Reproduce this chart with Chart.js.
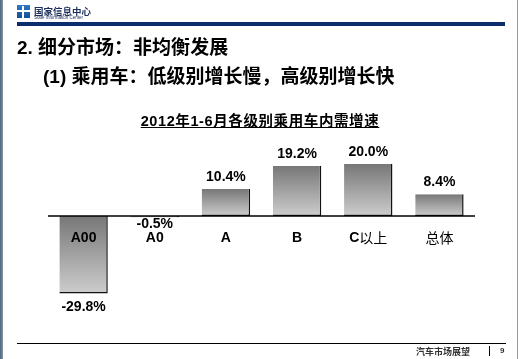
<!DOCTYPE html>
<html>
<head>
<meta charset="utf-8">
<script src="https://cdn.jsdelivr.net/npm/chart.js@4.4.1/dist/chart.umd.min.js"></script>
<style>
  html, body { margin: 0; padding: 0; background: #fff; }
  #slide { position: relative; width: 522px; height: 359px; overflow: hidden; background: #fff;
           font-family: "Liberation Sans", Arial, "Noto Sans CJK SC", sans-serif; }
  .abs { position: absolute; white-space: nowrap; }
  #leftEdge { left: 0; top: 0; width: 3px; height: 359px; background: linear-gradient(to right, #4d6479, #8796a6); }
  #rightEdge { left: 517px; top: 0; width: 1px; height: 359px; background: #9a9a9a; }
  #logo { left: 17px; top: 5px; width: 13px; height: 13px; background: linear-gradient(#2f78c8, #114f9a); }
  #logo:before { content: ""; position: absolute; left: 5px; top: 1px; width: 2px; height: 12px; background: #fff; }
  #logo:after { content: ""; position: absolute; left: 0; top: 5px; width: 13px; height: 2px; background: #fff; }
  #org { left: 34px; top: 4px; font-size: 9.5px; font-weight: bold; color: #1c2f5a; font-family: "Noto Sans CJK SC", sans-serif; }
  #orgEn { left: 34px; top: 15px; font-size: 4.5px; color: #1c2f5a; }
  #bar { left: 17px; top: 22px; width: 488px; height: 4px; background: #0b2d6b; }
  #h1 { left: 17px; top: 32px; font-size: 19px; font-weight: bold; color: #000; }
  #h2 { left: 43px; top: 61px; font-size: 19px; font-weight: bold; color: #000; }
  #ctitle { left: 0; width: 520px; text-align: center; top: 109px; font-size: 14.5px; font-weight: bold;
            color: #000; text-decoration: underline; letter-spacing: 0.6px; }
  #foot { left: 17px; top: 343px; width: 489px; height: 1px; background: #000; }
  #footTxt { left: 416px; top: 345px; font-size: 9px; font-weight: bold; color: #333; font-family: "Noto Sans CJK SC", sans-serif; }
  #footSep { left: 489px; top: 346px; width: 1px; height: 10px; background: #000; }
  #footNum { left: 500px; top: 346px; font-size: 8px; font-weight: bold; color: #333; }
  #wrap { position: absolute; left: 0; top: 0; width: 522px; height: 359px; }
</style>
</head>
<body>
<div id="slide">
  <div id="wrap"><canvas id="c"></canvas></div>
  <div class="abs" id="leftEdge"></div>
  <div class="abs" id="rightEdge"></div>
  <div class="abs" id="logo"></div>
  <div class="abs" id="org">国家信息中心</div>
  <div class="abs" id="orgEn">State Information Center</div>
  <div class="abs" id="bar"></div>
  <div class="abs" id="h1">2. 细分市场：非均衡发展</div>
  <div class="abs" id="h2">(1) 乘用车：低级别增长慢，高级别增长快</div>
  <div class="abs" id="ctitle">2012年1-6月各级别乘用车内需增速</div>
  <div class="abs" id="foot"></div>
  <div class="abs" id="footTxt">汽车市场展望</div>
  <div class="abs" id="footSep"></div>
  <div class="abs" id="footNum">9</div>
</div>
<script>
const categories = ["A00", "A0", "A", "B", "C以上", "总体"];
const growth = [-29.8, -0.5, 10.4, 19.2, 20.0, 8.4];

function barFill(c) {
  const chart = c.chart;
  if (!chart.chartArea) return '#aaaaaa';
  const y = chart.scales.y;
  const p0 = y.getPixelForValue(0), p1 = y.getPixelForValue(c.raw);
  const top = Math.min(p0, p1), bot = Math.max(p0, p1) + 0.01;
  const g = chart.ctx.createLinearGradient(0, top, 0, bot);
  g.addColorStop(0, '#777777');
  g.addColorStop(1, '#cdcdcd');
  return g;
}

// draw text with latin parts bold and CJK parts normal
function mixedText(ctx, text, cx, cy) {
  const runs = [];
  for (const ch of text) {
    const cjk = /[\u4e00-\u9fff]/.test(ch);
    if (runs.length && runs[runs.length - 1].cjk === cjk) runs[runs.length - 1].t += ch;
    else runs.push({t: ch, cjk: cjk});
  }
  const fontOf = r => r.cjk ? 'normal 14px "Noto Sans CJK SC"' : 'bold 14px "Liberation Sans", Arial';
  let w = 0;
  runs.forEach(r => { ctx.font = fontOf(r); r.w = ctx.measureText(r.t).width; w += r.w; });
  let x = cx - w / 2;
  ctx.textAlign = 'left';
  runs.forEach(r => { ctx.font = fontOf(r); ctx.fillText(r.t, x, cy); x += r.w; });
}

const barLabels = {
  id: 'barLabels',
  afterDatasetsDraw(chart) {
    const {ctx, chartArea: {left, right}} = chart;
    const y = chart.scales.y;
    const zero = y.getPixelForValue(0);
    ctx.save();
    ctx.strokeStyle = '#000';
    ctx.lineWidth = 1.5;
    ctx.beginPath();
    ctx.moveTo(left, zero);
    ctx.lineTo(right, zero);
    ctx.stroke();

    ctx.fillStyle = '#000';
    ctx.textBaseline = 'middle';
    const meta = chart.getDatasetMeta(0);
    meta.data.forEach((bar, i) => {
      const v = growth[i];
      const py = y.getPixelForValue(v);
      ctx.font = 'bold 14px "Liberation Sans", Arial';
      ctx.textAlign = 'center';
      const txt = v.toFixed(1) + '%';
      if (v >= 0) {
        ctx.fillText(txt, bar.x, py - 12);
      } else {
        const gap = (py - zero) > 20 ? 14 : 7;
        ctx.fillText(txt, bar.x, py + gap);
      }
      mixedText(ctx, categories[i], bar.x, zero + 22);
    });
    ctx.restore();
  }
};

new Chart(document.getElementById('c'), {
  type: 'bar',
  data: {
    labels: categories,
    datasets: [{
      data: growth,
      backgroundColor: barFill,
      borderColor: '#111111',
      borderWidth: {top: 0, left: 0, right: 1.5, bottom: 1.5},
      borderSkipped: false,
      categoryPercentage: 1.0,
      barPercentage: 0.68
    }]
  },
  options: {
    responsive: true,
    maintainAspectRatio: false,
    animation: false,
    layout: { padding: {left: 48, right: 47, top: 151, bottom: 52} },
    plugins: { legend: {display: false}, title: {display: false}, tooltip: {enabled: false} },
    scales: {
      x: { display: false },
      y: { display: false, min: -35, max: 25 }
    }
  },
  plugins: [barLabels]
});
</script>
</body>
</html>
